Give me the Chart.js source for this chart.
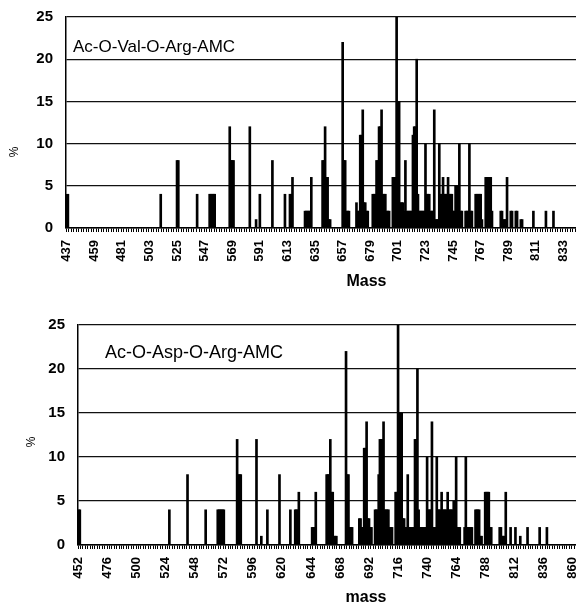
<!DOCTYPE html>
<html>
<head>
<meta charset="utf-8">
<script src="https://cdn.jsdelivr.net/npm/chart.js@4/dist/chart.umd.min.js"></script>
<style>
  body { margin: 0; background: #fff; }
  #wrap { position: relative; width: 576px; height: 606px; overflow: hidden; background: #fff; }
  #wrap canvas { position: absolute; left: 0; }
  #valChart { top: 0; }
  #aspChart { top: 300px; }
</style>
</head>
<body>
<div id="wrap">
  <canvas id="valChart" width="690" height="300"></canvas>
  <canvas id="aspChart" width="677" height="306"></canvas>
</div>
<script>
// Ac-O-Val-O-Arg-AMC: masses that have a peak, and their % values
const valMasses = [
    437, 438, 512, 525, 526, 541, 551, 552, 553, 554, 555,
    567, 568, 569, 570, 583, 588, 591, 601, 611, 615, 616, 617,
    627, 628, 629, 630, 631, 632, 641, 642, 643, 644, 645, 646, 647,
    657, 658, 659, 660, 661, 662,
    668, 669, 670, 671, 672, 673, 674, 675, 676, 677,
    681, 682, 683, 684, 685, 686, 687, 688, 689, 690, 691, 692, 693, 694,
    697, 698, 699, 700, 701, 702, 703, 704, 705, 706, 707, 708, 709, 710, 711, 712,
    713, 714, 715, 716, 717, 718, 719, 720, 721, 722, 723, 724, 725, 726, 727, 728, 729,
    730, 731, 732, 733, 734, 735, 736, 737, 738, 739, 740, 741, 742, 743, 744,
    745, 746, 747, 748, 749, 750, 751, 752, 755, 756, 757, 758, 759, 760,
    763, 764, 765, 766, 767, 768, 771, 772, 773, 774, 775, 776,
    783, 784, 785, 786, 787, 788, 791, 792, 795, 796, 799, 800, 809, 819, 825
];
const valPct = [
    4, 4, 4, 8, 8, 4, 4, 4, 4, 4, 4,
    12, 8, 8, 8, 12, 1, 4, 8, 4, 4, 4, 6,
    2, 2, 2, 2, 2, 6, 8, 8, 12, 6, 6, 1, 1,
    22, 8, 8, 2, 2, 2,
    3, 2, 2, 11, 11, 14, 3, 3, 2, 2,
    4, 4, 4, 8, 8, 12, 12, 14, 4, 4, 4, 2, 2, 2,
    6, 6, 6, 25, 15, 15, 3, 3, 3, 2, 8, 2, 2, 2, 2, 2,
    11, 12, 12, 20, 4, 2, 2, 2, 2, 2, 10, 4, 4, 4, 2, 2, 2,
    14, 1, 1, 1, 10, 4, 4, 6, 4, 4, 4, 6, 4, 4, 4,
    2, 2, 5, 5, 5, 10, 2, 2, 2, 2, 2, 10, 2, 2,
    4, 4, 4, 4, 4, 1, 6, 6, 6, 6, 6, 2,
    2, 2, 1, 1, 1, 6, 2, 2, 2, 2, 1, 1, 2, 2, 2
];
const valTicks = [437, 459, 481, 503, 525, 547, 569, 591, 613, 635, 657, 679, 701, 723, 745, 767, 789, 811, 833, 855, 877, 899];

// Ac-O-Asp-O-Arg-AMC
const aspMasses = [
    452, 453, 527, 542, 557, 567, 568, 569, 570, 571, 572,
    583, 584, 585, 586, 599, 603, 608, 618, 627, 631, 632, 633, 634,
    645, 646, 647, 648, 657, 658, 659, 660, 661, 662, 663, 664, 665,
    673, 674, 675, 676, 677, 678,
    684, 685, 686, 687, 688, 689, 690, 691, 692, 693, 694,
    697, 698, 699, 700, 701, 702, 703, 704, 705, 706, 707, 708, 709, 710, 711,
    714, 715, 716, 717, 718, 719, 720, 721, 722, 723, 724, 725, 726, 727, 728, 729,
    730, 731, 732, 733, 734, 735, 736, 737, 738, 739,
    740, 741, 742, 743, 744, 745, 746, 747, 748, 749, 750, 751, 752,
    753, 754, 755, 756, 757, 758, 759, 760, 761, 762, 763, 764, 765, 766, 767,
    771, 772, 773, 774, 775, 776, 777, 780, 781, 782, 783, 784, 785,
    788, 789, 790, 791, 792, 793, 800, 801, 802, 803, 804, 805,
    809, 813, 817, 823, 833, 839
];
const aspPct = [
    4, 4, 4, 8, 4, 4, 4, 4, 4, 4, 4,
    12, 8, 8, 8, 12, 1, 4, 8, 4, 4, 4, 4, 6,
    2, 2, 2, 6, 8, 8, 8, 12, 6, 6, 1, 1, 1,
    22, 8, 8, 2, 2, 2,
    3, 3, 2, 2, 11, 11, 14, 3, 3, 2, 2,
    4, 4, 4, 8, 12, 12, 12, 14, 4, 4, 4, 4, 2, 2, 2,
    6, 6, 25, 15, 15, 15, 3, 3, 2, 2, 8, 2, 2, 2, 2, 2,
    12, 12, 20, 4, 2, 2, 2, 2, 2, 2,
    10, 4, 4, 4, 14, 2, 2, 2, 10, 4, 4, 4, 6,
    4, 4, 4, 4, 6, 4, 4, 4, 4, 5, 5, 10, 2, 2, 2,
    2, 10, 2, 2, 2, 2, 2, 4, 4, 4, 4, 1, 1,
    6, 6, 6, 6, 2, 2, 2, 2, 1, 1, 1, 6,
    2, 2, 1, 2, 2, 2
];
const aspTicks = [452, 476, 500, 524, 548, 572, 596, 620, 644, 668, 692, 716, 740, 764, 788, 812, 836, 860, 884, 908];

const fontFamily = '"Liberation Sans", Arial, sans-serif';

function range(first, last) {
    const out = [];
    for (let m = first; m <= last; m++) out.push(m);
    return out;
}

function fillSeries(labels, masses, pct) {
    return labels.map(m => {
        const i = masses.indexOf(m);
        return i >= 0 ? pct[i] : 0;
    });
}

// peptide name and the "%" axis label
const panelText = {
    id: 'panelText',
    afterDraw(chart, args, opts) {
        const ctx = chart.ctx;
        ctx.save();
        ctx.fillStyle = '#000';
        ctx.textBaseline = 'middle';
        ctx.font = opts.nameSize + 'px ' + fontFamily;
        ctx.fillText(opts.name, opts.nameX, opts.nameY);
        ctx.translate(opts.pctX, opts.pctY);
        ctx.rotate(-Math.PI / 2);
        ctx.textAlign = 'center';
        ctx.font = '12px ' + fontFamily;
        ctx.fillText('%', 0, 0);
        ctx.restore();
    }
};

function makeChart(id, cfg) {
    const labels = range(cfg.first, cfg.last);
    const data = fillSeries(labels, cfg.masses, cfg.pct);
    return new Chart(document.getElementById(id), {
        type: 'bar',
        data: {
            labels: labels,
            datasets: [{
                data: data,
                backgroundColor: '#000',
                borderWidth: 0,
                barThickness: 2
            }]
        },
        options: {
            responsive: false,
            animation: false,
            events: [],
            layout: { padding: { top: cfg.padTop, right: cfg.padRight, left: 0, bottom: 0 } },
            plugins: {
                legend: { display: false },
                tooltip: { enabled: false },
                panelText: cfg.text
            },
            scales: {
                x: {
                    border: { color: '#000', width: 1.5 },
                    grid: {
                        drawOnChartArea: false,
                        tickLength: 4,
                        color: c => (c.index % 2 === 0 ? '#000' : 'rgba(0,0,0,0)')
                    },
                    ticks: {
                        autoSkip: false,
                        maxRotation: 90,
                        minRotation: 90,
                        padding: 8,
                        color: '#000',
                        font: { family: fontFamily, size: 13, weight: 'bold' },
                        callback: (v, i) => (cfg.ticks.includes(labels[i]) ? String(labels[i]) : '')
                    },
                    title: {
                        display: true,
                        text: cfg.xTitle,
                        color: '#000',
                        font: { family: fontFamily, size: 16, weight: 'bold', lineHeight: 1 },
                        padding: { top: 0, bottom: cfg.titlePad }
                    },
                    afterFit: s => { s.height = cfg.xHeight; }
                },
                y: {
                    min: 0,
                    max: 25,
                    border: { color: '#000', width: 1.5 },
                    grid: { color: '#111', lineWidth: 1.2, tickLength: 13, tickColor: 'rgba(0,0,0,0)' },
                    ticks: {
                        stepSize: 5,
                        padding: 0,
                        color: '#000',
                        font: { family: fontFamily, size: 15, weight: 'bold' }
                    },
                    afterFit: s => { s.width = cfg.yWidth; }
                }
            }
        },
        plugins: [panelText]
    });
}

makeChart('valChart', {
    first: 437, last: 915, masses: valMasses, pct: valPct, ticks: valTicks,
    xTitle: 'Mass', padTop: 17, padRight: 8, xHeight: 72, yWidth: 66, titlePad: 10,
    text: { name: 'Ac-O-Val-O-Arg-AMC', nameSize: 17, nameX: 73, nameY: 47, pctX: 15, pctY: 152 }
});

makeChart('aspChart', {
    first: 452, last: 927, masses: aspMasses, pct: aspPct, ticks: aspTicks,
    xTitle: 'mass', padTop: 25, padRight: 8, xHeight: 61, yWidth: 78, titlePad: 0,
    text: { name: 'Ac-O-Asp-O-Arg-AMC', nameSize: 18, nameX: 105, nameY: 53, pctX: 32, pctY: 142 }
});
</script>
</body>
</html>
